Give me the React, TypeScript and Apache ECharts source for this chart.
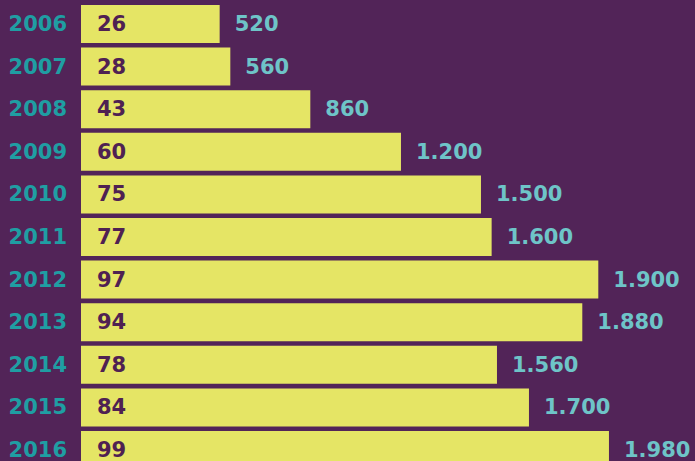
import React, { useEffect, useRef } from "react";
import * as echarts from "echarts";

const years = ["2006", "2007", "2008", "2009", "2010", "2011", "2012", "2013", "2014", "2015", "2016"];
const barValues = [26, 28, 43, 60, 75, 77, 97, 94, 78, 84, 99];
const sideValues = ["520", "560", "860", "1.200", "1.500", "1.600", "1.900", "1.880", "1.560", "1.700", "1.980"];

const BG = "#522458";
const BAR = "#e5e565";
const YEAR = "#1f9ea3";
const SIDE = "#6ec4c8";
const INNER = "#4f2152";
const FONT = "DejaVu Sans";

export default function App() {
  const ref = useRef<HTMLDivElement>(null);
  useEffect(() => {
    document.body.style.margin = "0";
    document.body.style.background = BG;
    const chart = echarts.init(ref.current!, null, { renderer: "svg" });
    chart.setOption({
      animation: false,
      backgroundColor: BG,
      grid: { left: 81, top: 2.7, width: 533.3, height: 468.6 },
      xAxis: { type: "value", min: 0, max: 100, show: false },
      yAxis: {
        type: "category",
        data: years,
        inverse: true,
        axisLine: { show: false },
        axisTick: { show: false },
        axisLabel: {
          margin: 14,
          color: YEAR,
          fontFamily: FONT,
          fontWeight: "bold",
          fontSize: 21,
        },
      },
      series: [
        {
          type: "bar",
          data: barValues,
          barWidth: 38,
          itemStyle: { color: BAR },
          label: {
            show: true,
            position: "insideLeft",
            distance: 16,
            color: INNER,
            fontFamily: FONT,
            fontWeight: "bold",
            fontSize: 21,
          },
        },
        {
          type: "bar",
          data: barValues,
          barWidth: 38,
          barGap: "-100%",
          itemStyle: { color: "transparent" },
          silent: true,
          label: {
            show: true,
            position: "right",
            distance: 15,
            color: SIDE,
            fontFamily: FONT,
            fontWeight: "bold",
            fontSize: 21,
            formatter: (p: any) => sideValues[p.dataIndex],
          },
        },
      ],
    });
    return () => chart.dispose();
  }, []);
  return (
    <div
      ref={ref}
      style={{ position: "absolute", left: 0, top: 0, width: 695, height: 475 }}
    />
  );
}
